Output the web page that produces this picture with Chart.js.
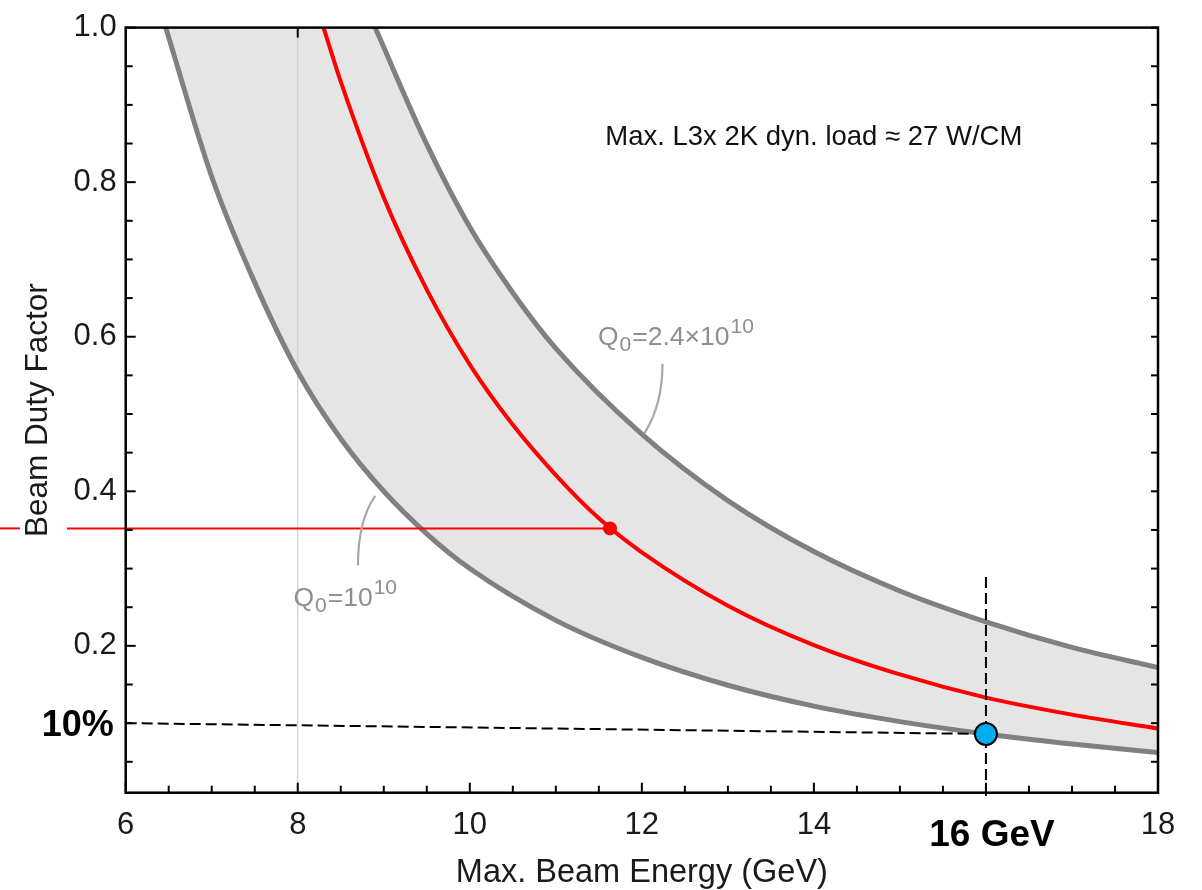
<!DOCTYPE html>
<html>
<head>
<meta charset="utf-8">
<script src="https://cdn.jsdelivr.net/npm/chart.js@4.4.1/dist/chart.umd.min.js"></script>
<style>
  html, body { margin: 0; padding: 0; background: #fff; }
  #wrap { width: 1202px; height: 890px; }
</style>
</head>
<body>
<div id="wrap"><canvas id="chart" width="1202" height="890"></canvas></div>
<script>
// Kurva: energi (GeV) vs duty factor
const lowerEnergy = [6.465, 7.0, 7.5, 8.0, 8.5, 9.0, 9.5, 10, 11, 12, 13, 14, 15, 16, 17, 18];
const lowerDuty   = [1.0, 0.807, 0.670, 0.555, 0.468, 0.400, 0.345, 0.300, 0.233, 0.185, 0.149, 0.122, 0.102, 0.086, 0.073, 0.062];

const redEnergy = [8.30, 8.5, 9, 9.5, 10, 10.5, 11, 11.5, 12, 13, 14, 15, 16, 17, 18];
const redDuty   = [1.0, 0.930, 0.780, 0.661, 0.564, 0.486, 0.421, 0.365, 0.321, 0.252, 0.201, 0.163, 0.133, 0.111, 0.093];

const upperEnergy = [8.90, 9.5, 10, 10.5, 11, 12, 13, 14, 15, 16, 17, 18];
const upperDuty   = [1.0, 0.849, 0.742, 0.657, 0.585, 0.474, 0.388, 0.322, 0.271, 0.231, 0.198, 0.172];

// titik penanda
const redMarker = { x: 11.63, y: 0.352 };
const blueMarker = { x: 16.0, y: 0.086 };
const tenPercentStart = { x: 6.0, y: 0.10 };
const sixteenTop = 0.289;
const sixteenBottom = 0.003;
const refLineX = 8;

// tick
const xTickValues = [6, 8, 10, 12, 14, 18];
const yTickValues = [0.2, 0.4, 0.6, 0.8, 1.0];
const xRange = [6, 18];
const yRange = [0.01, 1.0];

// teks anotasi
const loadNote = 'Max. L3x 2K dyn. load \u2248 27 W/CM';
const upperLabel = { base: 'Q', sub: '0', mid: '=2.4\u00d710', sup: '10', x: 11.49, y: 0.589 };
const lowerLabel = { base: 'Q', sub: '0', mid: '=10', sup: '10', x: 7.95, y: 0.252 };
const upperLeader = [[12.24, 0.565], [12.24, 0.512], [12.03, 0.475]];
const lowerLeader = [[8.90, 0.394], [8.70, 0.362], [8.70, 0.304]];

const FONT = '"Liberation Sans", Arial, sans-serif';

const toPoints = (xs, ys) => xs.map((x, i) => ({ x, y: ys[i] }));

const overlay = {
    id: 'overlay',
    afterDraw(chart) {
        const { ctx, chartArea: a, scales: { x, y } } = chart;
        ctx.save();

        // tick ke dalam
        ctx.strokeStyle = '#000';
        ctx.lineWidth = 2;
        const seg = (x1, y1, x2, y2) => { ctx.beginPath(); ctx.moveTo(x1, y1); ctx.lineTo(x2, y2); ctx.stroke(); };
        for (let i = 0; i <= 24; i++) {
            const v = 6 + i * 0.5;
            const px = x.getPixelForValue(v);
            seg(px, a.bottom, px, a.bottom - (i % 4 === 0 ? 10 : 7));
        }
        for (let i = 1; i <= 20; i++) {
            const py = y.getPixelForValue(i * 0.05);
            seg(a.left, py, a.left + (i % 4 === 0 ? 10 : 7), py);
            seg(a.right, py, a.right - 7, py);
        }
        const px8 = x.getPixelForValue(refLineX);
        seg(px8, a.top, px8, a.top + 10);

        // garis merah keluar ke kiri (terputus di judul sumbu)
        const ry = y.getPixelForValue(redMarker.y);
        const titleX = 39;
        ctx.strokeStyle = '#ff0000';
        ctx.lineWidth = 2;
        seg(0, ry, titleX - 19, ry);
        seg(titleX + 28, ry, a.left, ry);

        // bingkai
        ctx.strokeStyle = '#000';
        ctx.lineWidth = 2.5;
        ctx.strokeRect(a.left, a.top, a.right - a.left, a.bottom - a.top);

        // catatan beban
        ctx.fillStyle = '#111';
        ctx.font = `27.5px ${FONT}`;
        ctx.textBaseline = 'middle';
        ctx.textAlign = 'left';
        ctx.fillText(loadNote, x.getPixelForValue(11.575), y.getPixelForValue(0.8585));

        // label Q0
        const drawQ = (lab) => {
            let cx = x.getPixelForValue(lab.x);
            const by = y.getPixelForValue(lab.y);
            ctx.fillStyle = '#8f8f8f';
            ctx.textBaseline = 'alphabetic';
            ctx.font = `26.5px ${FONT}`;
            ctx.fillText(lab.base, cx, by); cx += ctx.measureText(lab.base).width + 1;
            ctx.font = `21px ${FONT}`;
            ctx.fillText(lab.sub, cx, by + 6); cx += ctx.measureText(lab.sub).width + 1;
            ctx.font = `26.5px ${FONT}`;
            ctx.fillText(lab.mid, cx, by); cx += ctx.measureText(lab.mid).width + 1;
            ctx.font = `21px ${FONT}`;
            ctx.fillText(lab.sup, cx, by - 12);
        };
        drawQ(upperLabel);
        drawQ(lowerLabel);

        const drawLeader = (pts) => {
            ctx.strokeStyle = '#a8a8a8';
            ctx.lineWidth = 2.2;
            ctx.beginPath();
            ctx.moveTo(x.getPixelForValue(pts[0][0]), y.getPixelForValue(pts[0][1]));
            ctx.quadraticCurveTo(x.getPixelForValue(pts[1][0]), y.getPixelForValue(pts[1][1]),
                x.getPixelForValue(pts[2][0]), y.getPixelForValue(pts[2][1]));
            ctx.stroke();
        };
        drawLeader(upperLeader);
        drawLeader(lowerLeader);

        // label tebal 10% dan 16 GeV
        ctx.fillStyle = '#000';
        ctx.font = `bold 36px ${FONT}`;
        ctx.textBaseline = 'middle';
        ctx.textAlign = 'right';
        ctx.fillText('10%', a.left - 12, y.getPixelForValue(0.1) + 3);
        ctx.font = `bold 37px ${FONT}`;
        ctx.textAlign = 'center';
        ctx.fillText('16 GeV', x.getPixelForValue(blueMarker.x) + 6, a.bottom + 43);

        ctx.restore();
    },
};

const ctx = document.getElementById('chart');
new Chart(ctx, {
    type: 'line',
    data: {
        datasets: [
            {   // titik biru
                data: [blueMarker],
                showLine: false,
                pointRadius: 11,
                pointBackgroundColor: '#00aeef',
                pointBorderColor: '#000',
                pointBorderWidth: 2,
                order: 0,
            },
            {   // titik merah
                data: [redMarker],
                showLine: false,
                pointRadius: 7,
                pointBackgroundColor: '#ff0000',
                pointBorderWidth: 0,
                order: 1,
            },
            {   // garis putus horizontal 10%
                data: [tenPercentStart, blueMarker],
                borderColor: '#000',
                borderWidth: 2,
                borderDash: [11, 5],
                pointRadius: 0,
                order: 2,
            },
            {   // garis putus vertikal 16 GeV
                data: [{ x: blueMarker.x, y: sixteenTop }, { x: blueMarker.x, y: sixteenBottom }],
                borderColor: '#000',
                borderWidth: 2,
                borderDash: [11, 5],
                pointRadius: 0,
                clip: false,
                order: 3,
            },
            {   // garis merah horizontal ke titik
                data: [{ x: xRange[0], y: redMarker.y }, redMarker],
                borderColor: '#ff0000',
                borderWidth: 2,
                pointRadius: 0,
                order: 4,
            },
            {   // kurva merah
                data: toPoints(redEnergy, redDuty),
                borderColor: '#ff0000',
                borderWidth: 4,
                pointRadius: 0,
                cubicInterpolationMode: 'monotone',
                order: 5,
            },
            {   // Q0 = 2.4e10 -- area di atasnya dikembalikan putih
                data: toPoints(upperEnergy, upperDuty),
                borderColor: '#808080',
                borderWidth: 5,
                pointRadius: 0,
                cubicInterpolationMode: 'monotone',
                fill: 'end',
                backgroundColor: '#ffffff',
                order: 6,
            },
            {   // Q0 = 1e10, isi abu ke atas
                data: toPoints(lowerEnergy, lowerDuty),
                borderColor: '#808080',
                borderWidth: 5,
                pointRadius: 0,
                cubicInterpolationMode: 'monotone',
                fill: 'end',
                backgroundColor: '#e5e5e5',
                order: 7,
            },
            {   // garis referensi tipis di 8 GeV
                data: [{ x: refLineX, y: yRange[0] }, { x: refLineX, y: yRange[1] }],
                borderColor: '#cfcfcf',
                borderWidth: 1.2,
                pointRadius: 0,
                order: 8,
            },
        ],
    },
    options: {
        responsive: false,
        animation: false,
        layout: { padding: { left: 0, right: 44, top: 21, bottom: 0 } },
        plugins: {
            legend: { display: false },
            tooltip: { enabled: false },
            filler: { drawTime: 'beforeDatasetsDraw' },
        },
        scales: {
            x: {
                type: 'linear',
                min: xRange[0],
                max: xRange[1],
                grid: { display: false, drawTicks: false },
                border: { display: false },
                afterBuildTicks: (s) => { s.ticks = xTickValues.map((v) => ({ value: v })); },
                afterFit: (s) => { s.height = 97.3; },
                ticks: {
                    color: '#1a1a1a',
                    padding: 14,
                    maxRotation: 0,
                    font: { family: FONT, size: 31 },
                    callback: (v) => String(v),
                },
                title: {
                    display: true,
                    text: 'Max. Beam Energy (GeV)',
                    color: '#1a1a1a',
                    font: { family: FONT, size: 32.5, lineHeight: 1 },
                    padding: { top: 0, bottom: 1 },
                },
            },
            y: {
                type: 'linear',
                min: yRange[0],
                max: yRange[1],
                grid: { display: false, drawTicks: false },
                border: { display: false },
                afterBuildTicks: (s) => { s.ticks = yTickValues.map((v) => ({ value: v })); },
                afterFit: (s) => { s.width = 125.7; },
                ticks: {
                    color: '#1a1a1a',
                    padding: 9,
                    font: { family: FONT, size: 31 },
                    callback: (v) => v.toFixed(1),
                },
                title: {
                    display: true,
                    text: 'Beam Duty Factor',
                    color: '#1a1a1a',
                    font: { family: FONT, size: 31.5, lineHeight: 1 },
                    padding: { top: 23, bottom: 0 },
                },
            },
        },
    },
    plugins: [overlay],
});
</script>
</body>
</html>
